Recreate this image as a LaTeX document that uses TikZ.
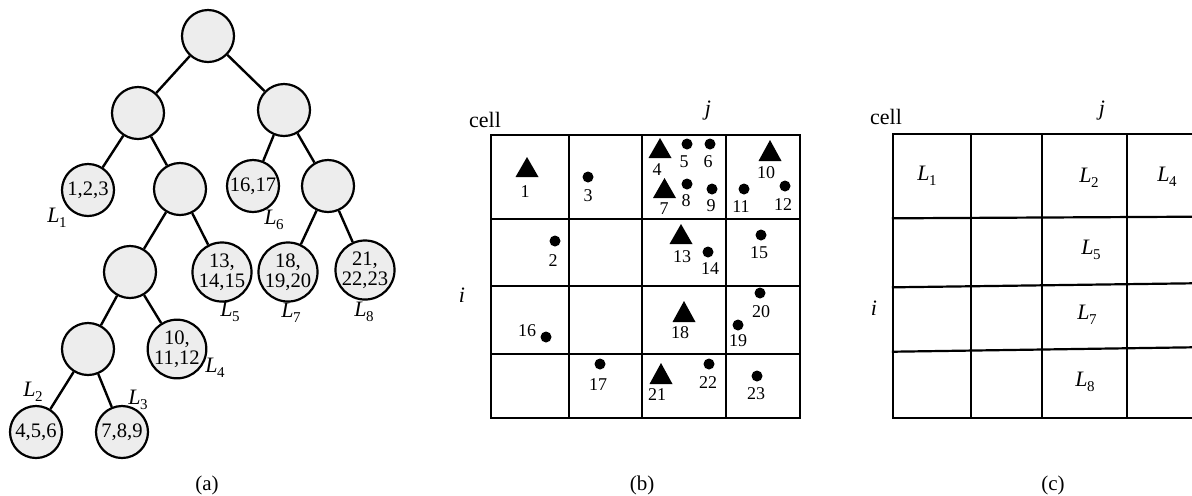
\documentclass[tikz,border=0pt]{standalone}
\usepackage{fontspec}
\setmainfont{Liberation Serif}
\newcommand{\Ls}[1]{\textit{L}\kern-0.3pt\raisebox{-0.55ex}{\fontsize{7.5}{8}\selectfont #1}}
\newcommand{\tri}[3]{\fill[black] (#1-11.5,#3) -- (#1+11.5,#3) -- (#1,#2) -- cycle;}
\tikzset{
  tn/.style={circle, draw, line width=1.1pt, fill=black!7, minimum size=26pt, inner sep=0pt,
             font=\fontsize{10.3}{10}\selectfont, align=center},
  edge/.style={line width=1.2pt},
  lab/.style={font=\fontsize{11}{12}\selectfont, inner sep=0pt},
  num/.style={font=\fontsize{9}{10}\selectfont, inner sep=0pt},
  gline/.style={line width=1.1pt, line cap=rect},
  dotm/.style={circle, fill=black, minimum size=5.5pt, inner sep=0pt},
  captxt/.style={font=\fontsize{10.5}{12}\selectfont, inner sep=0pt},
}
\begin{document}
\begin{tikzpicture}[x=0.5pt,y=-0.5pt]
\useasboundingbox (0,0) rectangle (1192,495);
% ---------------- (a) tree ----------------
\node[tn] (r)   at (208,36) {};
\node[tn] (a1)  at (138,113) {};
\node[tn] (a2)  at (284,110) {};
\node[tn] (n123) at (88,190) {1,2,3};
\node[tn] (b1)  at (180,189) {};
\node[tn] (n1617) at (253,186) {16,17};
\node[tn] (b2)  at (328,186) {};
\node[tn] (c1)  at (130,272) {};
\node[tn] (n131415) at (222,272) {13,\\14,15};
\node[tn] (n181920) at (288,272) {18,\\19,20};
\node[tn] (n212223) at (365,270) {21,\\22,23};
\node[tn] (d1)  at (88,349) {};
\node[tn] (n101112) at (177,349) {10,\\11,12};
\node[tn] (n456) at (36,432) {4,5,6};
\node[tn] (n789) at (122,432) {7,8,9};
\draw[edge] (r) -- (a1);
\draw[edge] (r) -- (a2);
\draw[edge] (a1) -- (n123);
\draw[edge] (a1) -- (b1);
\draw[edge] (a2) -- (n1617);
\draw[edge] (a2) -- (b2);
\draw[edge] (b1) -- (c1);
\draw[edge] (b1) -- (n131415);
\draw[edge] (b2) -- (n181920);
\draw[edge] (b2) -- (n212223);
\draw[edge] (c1) -- (d1);
\draw[edge] (c1) -- (n101112);
\draw[edge] (d1) -- (n456);
\draw[edge] (d1) -- (n789);
\node[lab] (tl1) at (57,218) {\Ls{1}};
\node[lab] (tl6) at (274,220) {\Ls{6}};
\node[lab] (tl5) at (230,312) {\Ls{5}};
\node[lab] (tl7) at (291,313) {\Ls{7}};
\node[lab] (tl8) at (364,312) {\Ls{8}};
\node[lab] (tl4) at (215,368) {\Ls{4}};
\node[lab] (tl2) at (33,392) {\Ls{2}};
\node[lab] (tl3) at (138,400) {\Ls{3}};
\node[captxt] (capa) at (207,485) {(a)};
% ---------------- (b) grid ----------------
\draw[gline] (491,135) rectangle (800,418);
\foreach \xx in {569,642,726} \draw[gline] (\xx,135) -- (\xx,418);
\foreach \yy in {219,286,354} \draw[gline] (491,\yy) -- (800,\yy);
\node[lab] (cellb) at (485,120) {cell};
\node[lab] (jb) at (708,111) {\textit{j}};
\node[lab] (ib) at (462,295) {\textit{i}};
% triangles
\tri{527}{157}{177}
\tri{660}{138}{158}
\tri{664.5}{178}{198}
\tri{770}{140}{161}
\tri{681}{224}{244}
\tri{684}{301}{322}
\tri{661}{363}{384}
% dots
\node[dotm] (p3)  at (588,177) {};
\node[dotm] (p5)  at (687,144) {};
\node[dotm] (p6)  at (710,144) {};
\node[dotm] (p8)  at (687,184) {};
\node[dotm] (p9)  at (712,189) {};
\node[dotm] (p11) at (744,189) {};
\node[dotm] (p12) at (785,186) {};
\node[dotm] (p2)  at (555,241) {};
\node[dotm] (p14) at (708,252) {};
\node[dotm] (p15) at (761,235) {};
\node[dotm] (p16) at (546,337) {};
\node[dotm] (p20) at (760,293) {};
\node[dotm] (p19) at (738,325) {};
\node[dotm] (p17) at (600,364) {};
\node[dotm] (p22) at (709,364) {};
\node[dotm] (p23) at (757,376) {};
% numbers
\node[num] (l1)  at (525,192) {1};
\node[num] (l3)  at (588,196) {3};
\node[num] (l4)  at (657,170) {4};
\node[num] (l5)  at (684,162) {5};
\node[num] (l6)  at (708,162) {6};
\node[num] (l7)  at (664,209) {7};
\node[num] (l8)  at (686,201) {8};
\node[num] (l9)  at (711,206) {9};
\node[num] (l10) at (766,173) {10};
\node[num] (l11) at (741,207) {11};
\node[num] (l12) at (783,205) {12};
\node[num] (l2)  at (553,261) {2};
\node[num] (l13) at (682,257) {13};
\node[num] (l14) at (710,269) {14};
\node[num] (l15) at (759,253) {15};
\node[num] (l16) at (527,331) {16};
\node[num] (l18) at (680,333) {18};
\node[num] (l20) at (761,312) {20};
\node[num] (l19) at (738,341) {19};
\node[num] (l17) at (598,385) {17};
\node[num] (l21) at (657,395) {21};
\node[num] (l22) at (708,383) {22};
\node[num] (l23) at (756,394) {23};
\node[captxt] (capb) at (642,485) {(b)};
% ---------------- (c) grid ----------------
\draw[gline] (1192,134) -- (893,134) -- (893,418) -- (1192,418);
\foreach \xx in {971,1042,1127} \draw[gline] (\xx,134) -- (\xx,418);
\draw[gline] (893,218.3) -- (1192,216.7);
\draw[gline] (893,287.3) -- (1192,283.3);
\draw[gline] (893,351.7) -- (1192,347.3);
\node[lab] (cellc) at (886,117) {cell};
\node[lab] (jc) at (1102,111) {\textit{j}};
\node[lab] (ic) at (874,308) {\textit{i}};
\node[lab] (c1l) at (927,176) {\Ls{1}};
\node[lab] (c2l) at (1089,178) {\Ls{2}};
\node[lab] (c4l) at (1167,177) {\Ls{4}};
\node[lab] (c5l) at (1091,250) {\Ls{5}};
\node[lab] (c7l) at (1087,315) {\Ls{7}};
\node[lab] (c8l) at (1085,382) {\Ls{8}};
\node[captxt] (capc) at (1053,485) {(c)};
\end{tikzpicture}
\end{document}
